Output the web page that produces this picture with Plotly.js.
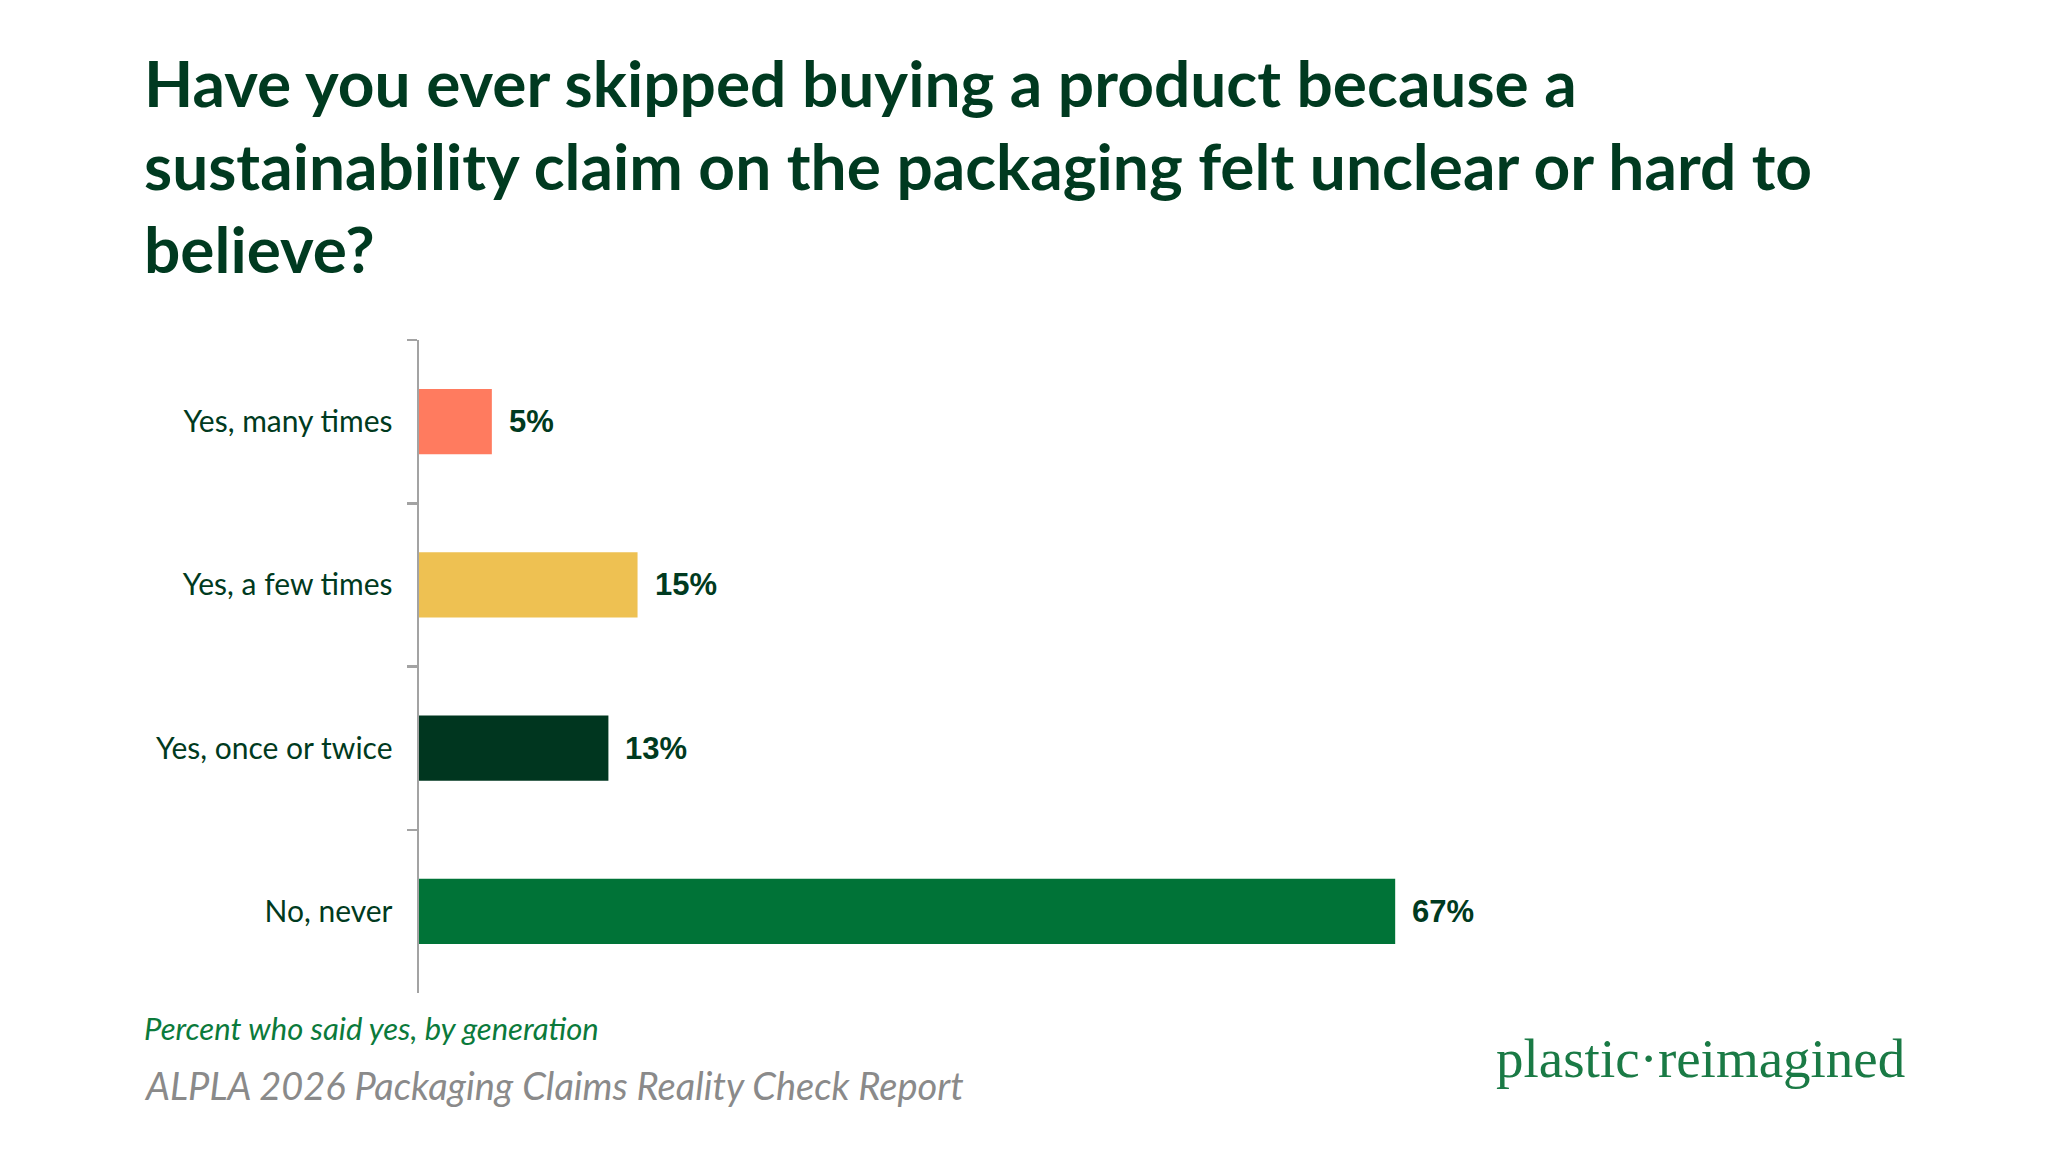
<!DOCTYPE html>
<html>
<head>
<meta charset="utf-8">
<script src="https://cdn.plot.ly/plotly-3.0.1.min.js"></script>
<style>
  html, body { margin: 0; padding: 0; background: #ffffff; }
  #chart { width: 2048px; height: 1154px; }
</style>
</head>
<body>
<div id="chart"></div>
<script>
// Survey answers, top to bottom
const answers = ["Yes, many times", "Yes, a few times", "Yes, once or twice", "No, never"];
const shares = [5, 15, 13, 67];
const barColors = ["#FF7B5F", "#EEC152", "#00361F", "#007337"];

const titleText = "Have you ever skipped buying a product because a<br>" +
  "sustainability claim on the packaging felt unclear or hard to<br>" +
  "believe?";
const noteText = "Percent who said yes, by generation";
const sourceText = "ALPLA 2026 Packaging Claims Reality Check Report";
const brandText = "plastic\u00B7reimagined";

const darkGreen = "#003A20";

const trace = {
  type: "bar",
  orientation: "h",
  y: answers,
  x: shares,
  marker: { color: barColors, line: { width: 0 } },
  hoverinfo: "skip",
  cliponaxis: false
};

// Value labels placed just past the end of each bar
const valueLabels = answers.map((a, i) => ({
  x: shares[i],
  y: a,
  xref: "x",
  yref: "y",
  text: shares[i] + "%",
  showarrow: false,
  xanchor: "left",
  yanchor: "middle",
  xshift: 15,
  font: { family: "Liberation Sans, Arial, sans-serif", size: 31, color: darkGreen, weight: 700 }
}));

const layout = {
  width: 2048,
  height: 1154,
  paper_bgcolor: "#ffffff",
  plot_bgcolor: "#ffffff",
  showlegend: false,
  margin: { l: 419, r: 172, t: 340, b: 161, pad: 0 },
  bargap: 0.6,
  title: {
    text: titleText,
    x: 144 / 2048,
    xanchor: "left",
    xref: "container",
    y: 1 - 107 / 1154,
    yanchor: "middle",
    yref: "container",
    font: { family: "Lato, sans-serif", size: 64, color: darkGreen, weight: 700 }
  },
  xaxis: {
    visible: false,
    range: [0, 100],
    fixedrange: true
  },
  yaxis: {
    type: "category",
    autorange: "reversed",
    showline: true,
    linecolor: "#a3a3a3",
    linewidth: 2.5,
    showgrid: false,
    zeroline: false,
    ticks: "outside",
    tickson: "boundaries",
    ticklen: 10,
    tickwidth: 2.5,
    tickcolor: "#a3a3a3",
    ticklabelstandoff: 18,
    tickfont: { family: "Lato, sans-serif", size: 30, color: darkGreen },
    fixedrange: true
  },
  annotations: valueLabels.concat([
    {
      text: noteText,
      xref: "paper", yref: "paper",
      x: (142 - 419) / 1457, y: -(1028 - 993) / 653,
      xanchor: "left", yanchor: "middle", showarrow: false,
      font: { family: "Lato, sans-serif", size: 31, color: "#0B7A3B", style: "italic" }
    },
    {
      text: sourceText,
      xref: "paper", yref: "paper",
      x: (142 - 419) / 1457, y: -(1085 - 993) / 653,
      xanchor: "left", yanchor: "middle", showarrow: false,
      font: { family: "Lato, sans-serif", size: 38, color: "#8A8A8A", style: "italic" }
    },
    {
      text: brandText,
      xref: "paper", yref: "paper",
      x: (1907 - 419) / 1457, y: -(1058 - 993) / 653,
      xanchor: "right", yanchor: "middle", showarrow: false,
      font: { family: "Liberation Serif, serif", size: 55, color: "#1A7A45" }
    }
  ])
};

Plotly.newPlot("chart", [trace], layout, { displayModeBar: false, staticPlot: true });
</script>
</body>
</html>
